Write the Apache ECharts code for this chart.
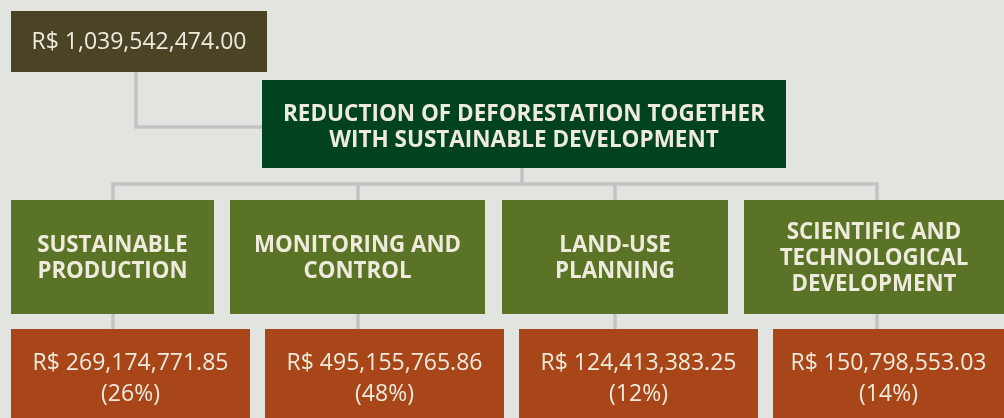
<!DOCTYPE html>
<html style="height: 100%">
<head>
    <meta charset="utf-8">
    <title>Reduction of deforestation</title>
</head>
<body style="height: 100%; margin: 0; background: #e2e4df">
    <div id="container" style="width: 1004px; height: 418px"></div>
    <script type="text/javascript" src="https://cdn.jsdelivr.net/npm/echarts@6/dist/echarts.min.js"></script>
    <script type="text/javascript">
        // data
        var totalAmount = 'R$ 1,039,542,474.00';
        var goal = 'REDUCTION OF DEFORESTATION TOGETHER\nWITH SUSTAINABLE DEVELOPMENT';
        var actions = ['SUSTAINABLE\nPRODUCTION', 'MONITORING AND\nCONTROL', 'LAND-USE\nPLANNING', 'SCIENTIFIC AND\nTECHNOLOGICAL\nDEVELOPMENT'];
        var amounts = ['R$ 269,174,771.85', 'R$ 495,155,765.86', 'R$ 124,413,383.25', 'R$ 150,798,553.03'];
        var shares = [26, 48, 12, 14];

        // layout (pixel-like units on hidden axes)
        var actionX = [[11, 214], [230, 485], [502, 728], [744, 1010]];
        var amountX = [[11, 250], [265, 504], [519, 758], [773, 1010]];
        var stemX = [113, 358, 615, 877];
        var TXT = '#efebdc';
        var FONT = '"Open Sans", "DejaVu Sans", sans-serif';

        var boxes = [];
        boxes.push({ value: [11, 11, 267, 72, 42], text: totalAmount, fill: '#4b4326', font: 'normal 23px ' + FONT, lh: 30 });
        boxes.push({ value: [262, 80, 786, 168, 127.5], text: goal, fill: '#00431e', font: 'bold 22.5px ' + FONT, lh: 26 });
        actions.forEach(function (a, i) {
            boxes.push({ value: [actionX[i][0], 200, actionX[i][1], 314, 258.5], text: a, fill: '#5a7326', font: 'bold 22.3px ' + FONT, lh: 26 });
        });
        amounts.forEach(function (a, i) {
            boxes.push({ value: [amountX[i][0], 329, amountX[i][1], 430, 378.5], text: a + '\n(' + shares[i] + '%)', fill: '#a8461a', font: 'normal 23px ' + FONT, lh: 31 });
        });

        var links = [];
        links.push([[136, 72], [136, 127], [262, 127]]);
        links.push([[522, 168], [522, 184]]);
        links.push([[stemX[0], 200], [stemX[0], 184], [stemX[3], 184], [stemX[3], 200]]);
        stemX.forEach(function (x, i) {
            if (i > 0 && i < 3) links.push([[x, 184], [x, 200]]);
            links.push([[x, 314], [x, 329]]);
        });

        var dom = document.getElementById('container');
        var myChart = echarts.init(dom);
        var option = {
            animation: false,
            grid: { left: 0, right: 0, top: 0, bottom: 0 },
            xAxis: { type: 'value', min: 0, max: 1004, show: false },
            yAxis: { type: 'value', min: 0, max: 418, inverse: true, show: false },
            series: [{
                type: 'custom',
                data: links.map(function (l, i) { return [i]; }),
                renderItem: function (params, api) {
                    var pts = links[params.dataIndex].map(function (p) { return api.coord(p); });
                    return {
                        type: 'polyline',
                        shape: { points: pts },
                        style: { stroke: '#c3c3c1', lineWidth: 3.5, fill: null }
                    };
                }
            }, {
                type: 'custom',
                data: boxes.map(function (b) { return b.value; }),
                renderItem: function (params, api) {
                    var b = boxes[params.dataIndex];
                    var p0 = api.coord([api.value(0), api.value(1)]);
                    var p1 = api.coord([api.value(2), api.value(3)]);
                    var cy = api.coord([0, api.value(4)])[1];
                    return {
                        type: 'group',
                        children: [{
                            type: 'rect',
                            shape: { x: p0[0], y: p0[1], width: p1[0] - p0[0], height: p1[1] - p0[1] },
                            style: { fill: b.fill }
                        }, {
                            type: 'text',
                            style: {
                                text: b.text,
                                x: (p0[0] + Math.min(p1[0], 1004 + 0)) / 2,
                                y: cy,
                                fill: TXT,
                                font: b.font,
                                lineHeight: b.lh,
                                align: 'center',
                                verticalAlign: 'middle'
                            }
                        }]
                    };
                }
            }]
        };
        myChart.setOption(option);
    </script>
</body>
</html>
